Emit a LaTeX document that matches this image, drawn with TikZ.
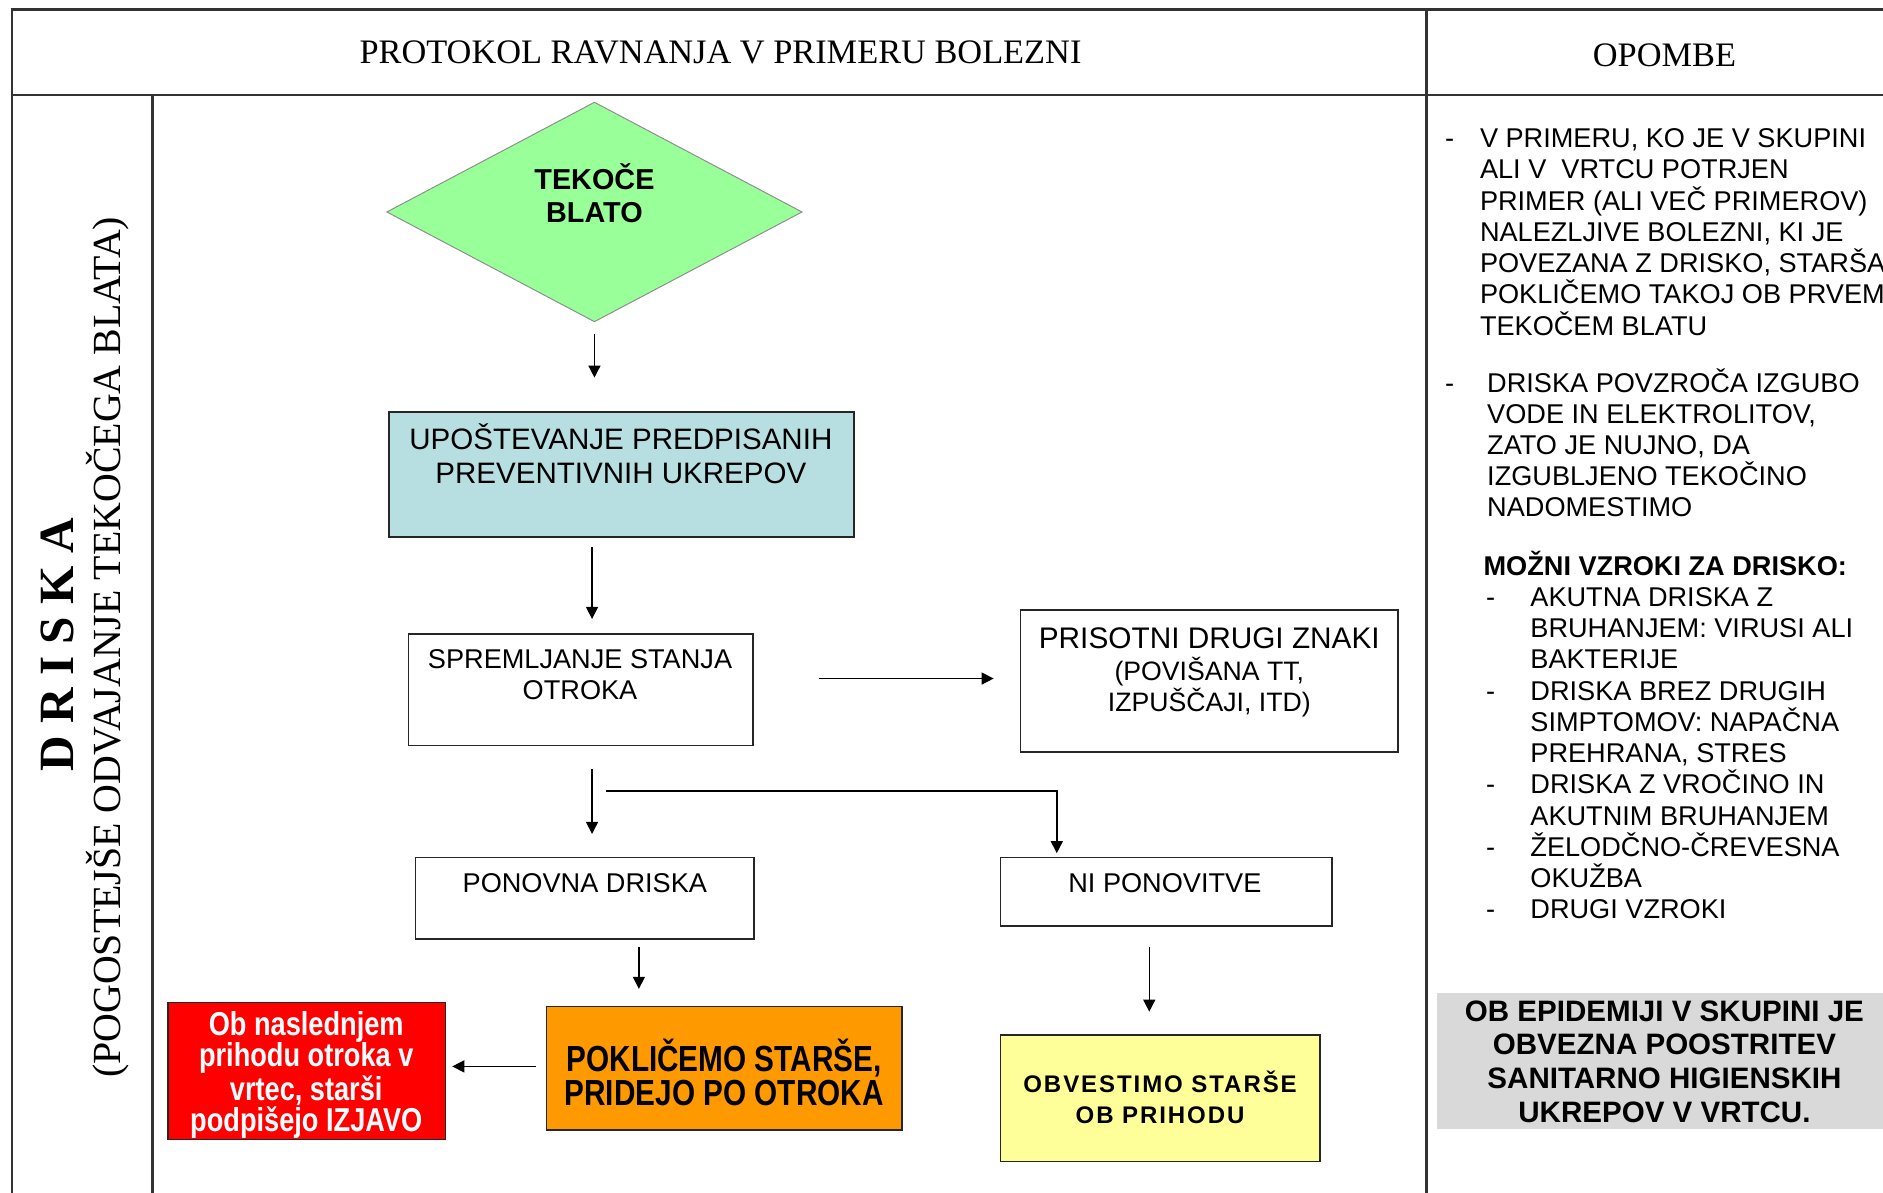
\documentclass[tikz,border=0pt]{standalone}
\usepackage{fontspec}
\setmainfont{Liberation Serif}
\setsansfont{Liberation Sans}
\newfontfamily\narrowsans[FakeStretch=0.82]{Liberation Sans}
\usetikzlibrary{arrows.meta,shapes.geometric,calc}

\definecolor{dgreen}{HTML}{99FF99}
\definecolor{dblue}{HTML}{B7DEE0}
\definecolor{dorange}{HTML}{FF9900}
\definecolor{dred}{HTML}{FF0000}
\definecolor{dyellow}{HTML}{FFFF99}
\definecolor{dgray}{HTML}{D9D9D9}

\begin{document}
\begin{tikzpicture}[x=0.5pt,y=-0.5pt,
  frame/.style={draw=black!80,line width=1.1pt},
  box/.style={draw=black!85,line width=0.6pt,rectangle,inner sep=0pt},
  arr/.style={-{Triangle[length=5pt,width=5pt]},line width=0.6pt},
  txt/.style={font=\sffamily\fontsize{11.3}{13}\selectfont,align=center,inner sep=0pt},
  big/.style={font=\sffamily\fontsize{12.3}{14}\selectfont,align=center,inner sep=0pt},
  line/.style={font=\sffamily\fontsize{11.3}{13}\selectfont,inner sep=0pt,anchor=base west},
]
\useasboundingbox (0,0) rectangle (1568,993);

% table frame
\draw[frame] (10,1010) -- (10,8) -- (1590,8);
\draw[frame] (10,79) -- (1590,79);
\draw[frame] (127,79) -- (127,1010);
\draw[frame] (1188,8) -- (1188,1010);

% headings
\node[inner sep=0pt,font=\fontsize{14.3}{16}\selectfont] (head) at (600,44) {PROTOKOL RAVNANJA V PRIMERU BOLEZNI};
\node[inner sep=0pt,font=\fontsize{14.3}{16}\selectfont] (opombe) at (1386,46) {OPOMBE};
\node[inner sep=0pt,rotate=90,font=\bfseries\fontsize{20.5}{22}\selectfont] (driska) at (48,537) {D R I S K A};
\node[inner sep=0pt,rotate=90,font=\fontsize{16.6}{18}\selectfont] (sub) at (90,539) {(POGOSTEJŠE ODVAJANJE TEKOČEGA BLATA)};

% flow chart shapes
\node[shape=diamond,draw=black!45,line width=0.4pt,fill=dgreen,minimum width=173pt,minimum height=91.5pt,inner sep=0pt] (tek) at (495,176.5) {};
\node[font=\sffamily\bfseries\fontsize{12}{14}\selectfont,align=center,inner sep=0pt] (tektxt) at (495,161) {TEKOČE\\BLATO};

\node[box,fill=dblue,minimum width=193.5pt,minimum height=52pt] (ups) at (517.5,395) {};
\node[big] (upstxt) at (517,378) {UPOŠTEVANJE PREDPISANIH\\PREVENTIVNIH UKREPOV};

\node[box,minimum width=143.5pt,minimum height=46.5pt] (spr) at (483.5,574.5) {};
\node[txt] (sprtxt) at (483,562) {SPREMLJANJE STANJA\\OTROKA};

\node[box,minimum width=157pt,minimum height=59pt] (pri) at (1007,567) {};
\node[txt,font=\sffamily\fontsize{11.1}{13}\selectfont] (pritxt) at (1007,560) {{\fontsize{12.4}{13.5}\selectfont PRISOTNI DRUGI ZNAKI}\\(POVIŠANA TT,\\IZPUŠČAJI, ITD)};

\node[box,minimum width=141pt,minimum height=34pt] (pon) at (487,748) {};
\node[txt] (pontxt) at (487,735) {PONOVNA DRISKA};

\node[box,minimum width=138pt,minimum height=28.5pt] (ni) at (971,742.5) {};
\node[txt] (nitxt) at (970,735) {NI PONOVITVE};

\node[box,fill=dorange,minimum width=148pt,minimum height=51.5pt] (pok) at (603,889.5) {};
\node[align=center,inner sep=0pt,font=\narrowsans\bfseries\fontsize{15.1}{14}\selectfont] (poktxt) at (603,893) {POKLIČEMO STARŠE,\\PRIDEJO PO OTROKA};

\node[box,fill=dred,minimum width=115.5pt,minimum height=57pt] (izj) at (255.5,892) {};
\node[align=center,inner sep=0pt,text=white,font=\narrowsans\bfseries\fontsize{13.8}{13}\selectfont] (izjtxt) at (255,895) {Ob naslednjem\\prihodu otroka v\\vrtec, starši\\podpišejo IZJAVO};

\node[box,fill=dyellow,minimum width=133pt,minimum height=52.5pt] (obv) at (966,914.5) {};
\node[align=center,inner sep=0pt,font=\sffamily\bfseries\fontsize{10}{13}\selectfont\addfontfeature{LetterSpace=8}] (obvtxt) at (966,914) {OBVESTIMO STARŠE\\OB PRIHODU};

% connectors
\draw[arr,shorten <=5pt,shorten >=14pt] (tek.south) -- (tek.south |- ups.north);
\coordinate (c2) at ($(ups.south)+(-24.5,0)$);
\draw[arr,shorten <=4pt,shorten >=6pt] (c2) -- (c2 |- spr.north);
\coordinate (c3) at ($(spr.east)+(0,-9.5)$);
\draw[arr,shorten <=27pt,shorten >=11pt] (c3) -- (c3 -| pri.west);
\coordinate (c4) at ($(spr.south)+(9.5,0)$);
\draw[arr,shorten <=9.5pt,shorten >=9.5pt] (c4) -- (c4 |- pon.north);
\coordinate (c5) at ($(spr.south)+(21.5,37)$);
\coordinate (c5e) at ($(ni.north)+(-91,0)$);
\draw[arr,shorten >=1.5pt] (c5) -| (c5e);
\coordinate (c6) at ($(pon.south)+(45,0)$);
\draw[arr,shorten <=3pt,shorten >=7pt] (c6) -- (c6 |- pok.north);
\coordinate (c7) at ($(ni.south)+(-14,0)$);
\draw[arr,shorten <=8.5pt,shorten >=9.5pt] (c7) -- (c7 |- obv.north);
\coordinate (c8) at ($(pok.west)+(0,-1.5)$);
\draw[arr,shorten <=4pt,shorten >=2.5pt] (c8) -- (c8 -| izj.east);

% notes column: first note
\node[line] (d1) at (1203,123) {-};
\foreach \t [count=\i from 0] in {{V PRIMERU, KO JE V SKUPINI},{ALI V\ \ VRTCU POTRJEN},
  {PRIMER (ALI VEČ PRIMEROV)},{NALEZLJIVE BOLEZNI, KI JE},{POVEZANA Z DRISKO, STARŠA},
  {POKLIČEMO TAKOJ OB PRVEM},{TEKOČEM BLATU}}
  \node[line] (a\i) at (1232,{123+26*\i}) {\t};

% second note
\node[line] (d2) at (1203,327) {-};
\foreach \t [count=\i from 0] in {{DRISKA POVZROČA IZGUBO},{VODE IN ELEKTROLITOV,},
  {ZATO JE NUJNO, DA},{IZGUBLJENO TEKOČINO},{NADOMESTIMO}}
  \node[line] (b\i) at (1238,{327+25.8*\i}) {\t};

% possible causes
\node[line,font=\sffamily\bfseries\fontsize{11.3}{13}\selectfont] (vz) at (1235,479) {MOŽNI VZROKI ZA DRISKO:};
\foreach \k in {0,3,6,8,10}
  \node[line] (e\k) at (1237,{505+26*\k}) {-};
\foreach \t [count=\i from 0] in {{AKUTNA DRISKA Z},{BRUHANJEM: VIRUSI ALI},{BAKTERIJE},
  {DRISKA BREZ DRUGIH},{SIMPTOMOV: NAPAČNA},{PREHRANA, STRES},{DRISKA Z VROČINO IN},
  {AKUTNIM BRUHANJEM},{ŽELODČNO-ČREVESNA},{OKUŽBA},{DRUGI VZROKI}}
  \node[line] (c\i) at (1274,{505+26*\i}) {\t};

\node[fill=dgray,minimum width=191.5pt,minimum height=56.5pt,inner sep=0pt] (epi) at (1388.5,883.5) {};
\node[align=center,inner sep=0pt,font=\sffamily\bfseries\fontsize{12.3}{14}\selectfont] (epitxt) at (1386,884) {OB EPIDEMIJI V SKUPINI JE\\OBVEZNA POOSTRITEV\\SANITARNO HIGIENSKIH\\UKREPOV V VRTCU.};
\end{tikzpicture}
\end{document}
